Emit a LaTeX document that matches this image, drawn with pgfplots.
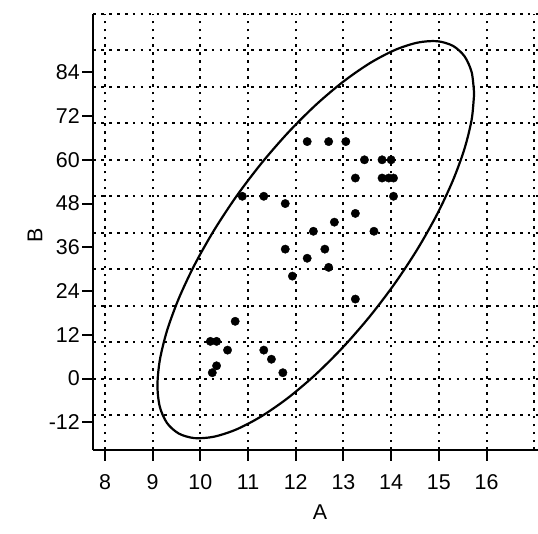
\documentclass[border=0pt]{standalone}
\usepackage{fontspec}
\setmainfont{Liberation Sans}
\usepackage{pgfplots}
\pgfplotsset{compat=1.18}
\begin{document}
\begin{tikzpicture}
\path[use as bounding box] (-93.3bp,-84bp) rectangle (444.7bp,450bp);
\begin{axis}[
  at={(0,0)}, anchor=south west,
  width=444.7bp, height=436bp, scale only axis,
  xmin=7.755, xmax=17.08, ymin=-19.6, ymax=100,
  axis x line*=bottom, axis y line*=left,
  axis line style={line width=2bp, -, black},
  xtick={8,9,10,11,12,13,14,15,16},
  xticklabels={8,9,10,11,12,13,14,15,16},
  ytick={-12,0,12,24,36,48,60,72,84},
  yticklabels={-12,0,12,24,36,48,60,72,84},
  minor xtick={8,9,10,11,12,13,14,15,16,17},
  minor ytick={-10,0,10,20,30,40,50,60,70,80,90,100},
  grid=minor,
  minor grid style={black, line width=2bp, dash pattern=on 2.6bp off 5.3bp},
  tick align=outside, major tick length=11bp, minor tick length=0pt,
  every tick/.style={black, line width=2bp},
  ticklabel style={font=\fontsize{21.5}{24}\selectfont},
  xticklabel style={yshift=-10bp},
  yticklabel style={xshift=1bp},
  label style={font=\fontsize{21.5}{24}\selectfont},
  xlabel={A}, ylabel={B},
  xlabel style={at={(axis description cs:0.51,-0.142)}, anchor=center},
  ylabel style={at={(axis description cs:-0.131,0.493)}, anchor=center},
  clip=false,
]
\addplot[black, line width=2.2bp, smooth] coordinates {
(15.74,78.16) (15.69,83.97) (15.54,88.38) (15.295,91.27) (14.963,92.54)
(14.554,92.15) (14.08,90.13) (13.555,86.52) (12.996,81.44) (12.42,75.05)
(11.844,67.53) (11.285,59.12) (10.76,50.07) (10.286,40.65) (9.877,31.16)
(9.545,21.88) (9.30,13.10) (9.15,5.06) (9.10,-1.96) (9.15,-7.77)
(9.30,-12.18) (9.545,-15.07) (9.877,-16.34) (10.286,-15.95) (10.76,-13.93)
(11.285,-10.32) (11.844,-5.24) (12.42,1.15) (12.996,8.67) (13.555,17.08)
(14.08,26.13) (14.554,35.55) (14.963,45.04) (15.295,54.32) (15.54,63.10)
(15.69,71.14) (15.74,78.16)
};
\addplot[only marks, mark=*, mark size=4.2bp, black] coordinates {
(12.24,65) (12.69,65) (13.05,65)
(13.44,60) (13.81,60) (14.0,60)
(13.25,55) (13.81,55) (13.95,55) (14.05,55)
(14.05,50) (10.88,50) (11.33,50)
(11.78,48) (13.25,45.3) (12.81,42.9)
(12.37,40.4) (13.64,40.4)
(11.78,35.5) (12.61,35.5) (12.24,33)
(12.69,30.5) (11.93,28.1) (13.25,21.8)
(10.73,15.7) (10.21,10.2) (10.34,10.2)
(10.57,7.8) (11.33,7.8) (11.49,5.3)
(10.34,3.5) (10.25,1.6) (11.73,1.6)
};
\end{axis}
\end{tikzpicture}
\end{document}
